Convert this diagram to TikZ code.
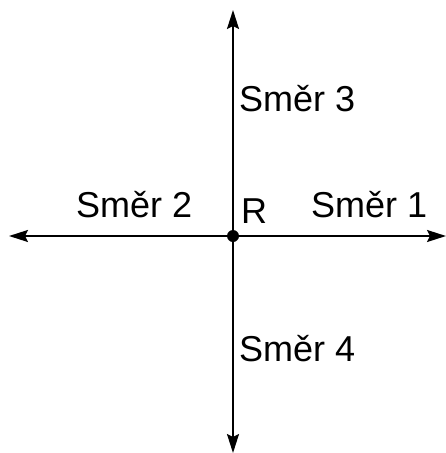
\documentclass[tikz,border=0pt]{standalone}
\usepackage{fontspec}
\setmainfont{Liberation Sans}
\usetikzlibrary{arrows.meta}
\begin{document}
\begin{tikzpicture}[x=1pt,y=-1pt,
  every node/.style={font=\fontsize{36}{42}\selectfont,inner sep=0pt,anchor=base west},
  axis/.style={line width=2pt,{Stealth[length=19pt,width=12pt,inset=3pt]}-{Stealth[length=19pt,width=12pt,inset=3pt]}}]
\useasboundingbox (0,0) rectangle (446,453);
\coordinate (w) at (9,236);
\coordinate (e) at (446,236);
\coordinate (n) at (233,10);
\coordinate (s) at (233,453);
\draw[axis] (w) -- (e);
\draw[axis] (n) -- (s);
\node[circle,fill,minimum size=12pt,anchor=center] (R) at (233,236) {};
\node (r) at (241,223) {R};
\node (d1) at (311,217) {Směr 1};
\node (d2) at (76,217) {Směr 2};
\node (d3) at (239,111) {Směr 3};
\node (d4) at (239,361) {Směr 4};
\end{tikzpicture}
\end{document}
